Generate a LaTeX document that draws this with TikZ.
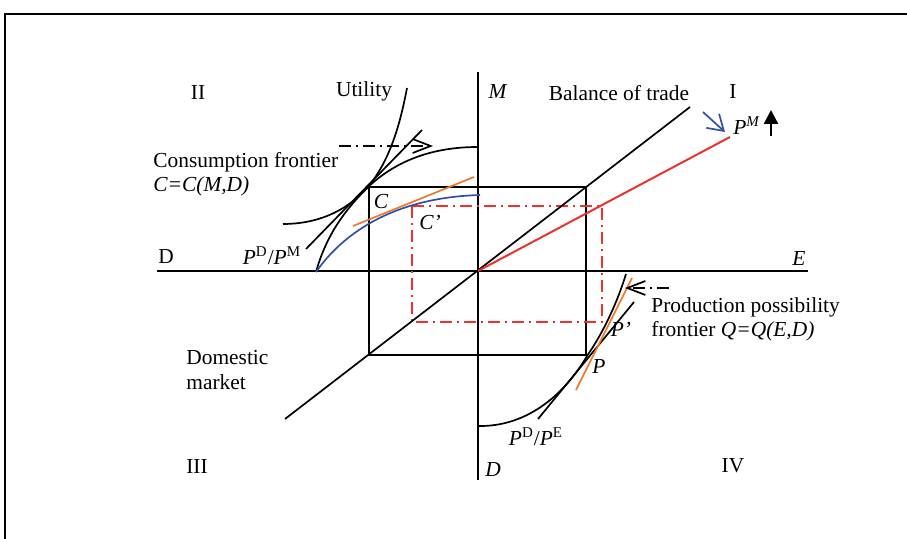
\documentclass[tikz,border=0pt]{standalone}
\usepackage{fontspec}
\setmainfont{Liberation Serif}
\usetikzlibrary{arrows.meta}
\definecolor{myred}{RGB}{235,50,45}
\definecolor{myorange}{RGB}{240,120,40}
\definecolor{myblue}{RGB}{50,80,165}
\begin{document}
\begin{tikzpicture}[x=0.5pt,y=-0.5pt,
  lbl/.style={inner sep=0pt, font=\fontsize{10.7}{13}\selectfont},
  axisline/.style={line width=1pt},
  curveline/.style={line width=0.85pt},
  ddash/.style={dash pattern=on 6pt off 2.5pt on 1pt off 2.5pt},
  barb/.style={-{Straight Barb[length=9pt,width=7pt,line width=0.85pt]}},
]
\useasboundingbox (0,0) rectangle (907,539);
% frame
\coordinate (f0) at (5,14); \coordinate (f1) at (907,14); \coordinate (f2) at (5,539);
\draw[line width=1.3pt] (f1) -- (f0) -- (f2);
% axes
\coordinate (O) at (478,271);
\coordinate (Mtop) at (478,72); \coordinate (Dbot) at (478,480);
\coordinate (Dl) at (157,271); \coordinate (Er) at (808,271);
\draw[axisline] (Mtop) -- (Dbot);
\draw[axisline] (Dl) -- (Er);
% box
\coordinate (B1) at (369,187); \coordinate (B2) at (586,355);
\draw[axisline] (B1) rectangle (B2);
% red dash-dot rectangle
\coordinate (R1) at (412,206); \coordinate (R2) at (602,322);
\draw[myred, line width=1pt, ddash] (R1) rectangle (R2);
% diagonal
\coordinate (T1) at (285,419); \coordinate (T2) at (690,107);
\draw[curveline] (T1) -- (T2);
% red line
\coordinate (RL) at (730,137);
\draw[myred, line width=1pt] (O) -- (RL);
% blue arrow and black arrow
\coordinate (ba0) at (703,112); \coordinate (ba1) at (725,132);
\draw[myblue, line width=0.85pt, -{Straight Barb[length=7.5pt,width=9.5pt,line width=0.85pt]}] (ba0) -- (ba1);
\coordinate (ua0) at (771,136); \coordinate (ua1) at (771,110);
\draw[line width=1.2pt, -{Triangle[length=7pt,width=7pt]}] (ua0) -- (ua1);
% quadrant II curves
\coordinate (Cpt) at (368,187);
\coordinate (u0) at (407,88); \coordinate (u1) at (283,224);
\draw[curveline] (u0) .. controls (400,125) and (390,160) .. (Cpt) .. controls (345,213) and (315,224) .. (u1);
\coordinate (cf0) at (316,272); \coordinate (cf3) at (478,147);
\draw[curveline] (cf0) .. controls (325,240) and (340,215) .. (Cpt) .. controls (395,162) and (430,147) .. (cf3);
\coordinate (tg1) at (306,249); \coordinate (tg2) at (422,130);
\draw[curveline] (tg1) -- (tg2);
\coordinate (bl3) at (480,195);
\draw[myblue, curveline] (cf0) .. controls (335,245) and (380,198) .. (bl3);
\coordinate (or1) at (353,226); \coordinate (or2) at (474,177);
\draw[myorange, curveline] (or1) -- (or2);
\coordinate (da0) at (339,146); \coordinate (da1) at (433,146);
\draw[curveline, ddash, barb] (da0) -- (da1);
% quadrant IV curves
\coordinate (pf0) at (478,426); \coordinate (Ppt) at (587,356); \coordinate (pf3) at (626,274);
\draw[curveline] (pf0) .. controls (525,427) and (563,397) .. (Ppt) .. controls (605,330) and (618,300) .. (pf3);
\coordinate (tp1) at (538,419); \coordinate (tp2) at (634,302);
\draw[curveline] (tp1) -- (tp2);
\coordinate (op1) at (576,390); \coordinate (op2) at (632,278);
\draw[myorange, curveline] (op1) -- (op2);
\coordinate (db0) at (669,288); \coordinate (db1) at (625,288);
\draw[curveline, ddash, barb] (db0) -- (db1);
% labels
\node[lbl] (qII) at (198,92) {II};
\node[lbl] (qI) at (733,91) {I};
\node[lbl] (qIII) at (197,466) {III};
\node[lbl] (qIV) at (733,466) {IV};
\node[lbl] (util) at (364,91) {Utility};
\node[lbl] (lM) at (498,91) {\textit{M}};
\node[lbl] (bot) at (619,93) {Balance of trade};
\node[lbl] (pm) at (747,126) {\textit{P}\textsuperscript{\textit{M}}};
\node[lbl, anchor=west] (cf1) at (153,162) {Consumption frontier};
\node[lbl, anchor=west] (cf2) at (153,186) {\textit{C=C(M,D)}};
\node[lbl] (lD) at (166,257) {D};
\node[lbl] (pdpm) at (272,256) {\textit{P}\textsuperscript{D}/\textit{P}\textsuperscript{M}};
\node[lbl] (lC) at (381,202) {\textit{C}};
\node[lbl] (lCp) at (430,222) {\textit{C’}};
\node[lbl] (lE) at (799,258) {\textit{E}};
\node[lbl] (lD2) at (493,470) {\textit{D}};
\node[lbl, anchor=west] (pp1) at (651,307) {Production possibility};
\node[lbl, anchor=west] (pp2) at (651,331) {frontier \textit{Q=Q(E,D)}};
\node[lbl] (lPp) at (621,329) {\textit{P’}};
\node[lbl] (lP) at (599,366) {\textit{P}};
\node[lbl] (pdpe) at (536,437) {\textit{P}\textsuperscript{D}/\textit{P}\textsuperscript{E}};
\node[lbl, anchor=west] (dm1) at (186,358) {Domestic};
\node[lbl, anchor=west] (dm2) at (186,382) {market};
\end{tikzpicture}
\end{document}
